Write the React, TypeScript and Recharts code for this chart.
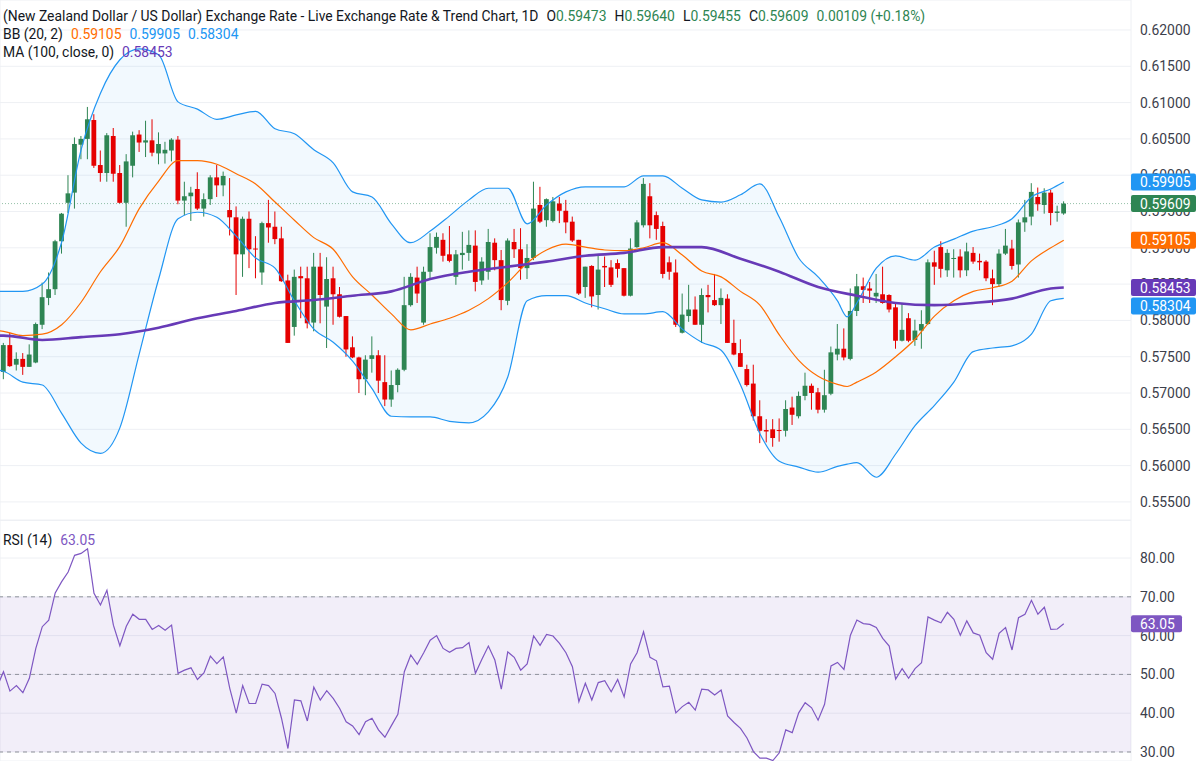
import {
  Area,
  Bar,
  CartesianGrid,
  ComposedChart,
  Line,
  ReferenceArea,
  ReferenceLine,
  XAxis,
  YAxis,
} from 'recharts'

const FONT = 'Roboto, "Open Sans", sans-serif'
const FS = 13.9
const UP = '#2e8553'
const DOWN = '#e50000'
const BLUE = '#2196f3'
const ORANGE = '#ff6d00'
const PURPLE = '#673ab7'
const RSI_C = '#7e57c2'
const GRID = '#eef0f4'
const AXIS_TXT = '#3c404b'

// daily candles, oldest first
const opens = [
  0.5729, 0.5766, 0.5739, 0.5747, 0.5736, 0.5742, 0.5794, 0.5831, 0.5843, 0.5909,
  0.5962, 0.5976, 0.6042, 0.605, 0.6076, 0.6014, 0.6003, 0.6054, 0.6003, 0.5962,
  0.6013, 0.6056, 0.6045, 0.6048, 0.603, 0.603, 0.6034, 0.6049, 0.5965, 0.5971,
  0.5981, 0.5954, 0.5967, 0.5997, 0.5986, 0.5952, 0.5942, 0.5891, 0.594, 0.5899,
  0.5866, 0.5934, 0.5929, 0.5913, 0.5855, 0.5791, 0.5861, 0.5858, 0.5797, 0.5874,
  0.5819, 0.5858, 0.5836, 0.5806, 0.5763, 0.5749, 0.5719, 0.5747, 0.5752, 0.5715,
  0.5691, 0.5711, 0.5732, 0.5821, 0.5859, 0.5797, 0.5867, 0.59, 0.5911, 0.5891,
  0.586, 0.589, 0.5893, 0.5903, 0.5855, 0.5867, 0.5907, 0.5883, 0.5827, 0.5908,
  0.5898, 0.5872, 0.5886, 0.5959, 0.5938, 0.5937, 0.5961, 0.5951, 0.5936, 0.5911,
  0.5846, 0.5875, 0.5835, 0.5875, 0.5873, 0.5879, 0.5872, 0.5834, 0.5901, 0.5931,
  0.5971, 0.5945, 0.593, 0.588, 0.5866, 0.5783, 0.5806, 0.5815, 0.5794, 0.5835,
  0.5828, 0.5821, 0.583, 0.5769, 0.5755, 0.5733, 0.5713, 0.5668, 0.5649, 0.565,
  0.5649, 0.5648, 0.568, 0.5668, 0.5696, 0.571, 0.5701, 0.5677, 0.5699, 0.5753,
  0.5761, 0.5747, 0.5813, 0.5847, 0.5844, 0.5833, 0.5836, 0.5835, 0.5818, 0.5772,
  0.5803, 0.5773, 0.5786, 0.5795, 0.588, 0.5901, 0.5869, 0.5885, 0.5888, 0.5869,
  0.5893, 0.5882, 0.5881, 0.5858, 0.585, 0.5892, 0.5899, 0.5877, 0.5935, 0.5943,
  0.597, 0.5959, 0.5976, 0.5948, 0.59473,
]
const highs = [
  0.5769, 0.5783, 0.5756, 0.5755, 0.5767, 0.5797, 0.5852, 0.5866, 0.5911, 0.5948,
  0.6, 0.6052, 0.6054, 0.6094, 0.6084, 0.6034, 0.6058, 0.6065, 0.6014, 0.6029,
  0.606, 0.6062, 0.6075, 0.6077, 0.6059, 0.6046, 0.6051, 0.6054, 0.5991, 0.5984,
  0.6004, 0.5975, 0.6, 0.6014, 0.6005, 0.5996, 0.5957, 0.5943, 0.595, 0.5916,
  0.5936, 0.5966, 0.595, 0.5929, 0.5863, 0.587, 0.5874, 0.5874, 0.5893, 0.5893,
  0.5887, 0.5874, 0.5846, 0.5806, 0.5778, 0.575, 0.5752, 0.5778, 0.5759, 0.5752,
  0.5731, 0.5734, 0.586, 0.5865, 0.5874, 0.5874, 0.592, 0.5921, 0.592, 0.593,
  0.5897, 0.5922, 0.5924, 0.5924, 0.5887, 0.5926, 0.5913, 0.5897, 0.5913, 0.5926,
  0.5927, 0.5905, 0.5991, 0.5984, 0.5968, 0.597, 0.597, 0.5966, 0.5943, 0.5911,
  0.5874, 0.5876, 0.5889, 0.5888, 0.5883, 0.5884, 0.5872, 0.5913, 0.5938, 0.5996,
  0.5989, 0.595, 0.5936, 0.5888, 0.5884, 0.5837, 0.5849, 0.5833, 0.5844, 0.5849,
  0.5864, 0.5844, 0.5836, 0.5801, 0.5774, 0.5739, 0.5739, 0.569, 0.5664, 0.5664,
  0.5665, 0.569, 0.5695, 0.5702, 0.5728, 0.5713, 0.5707, 0.5732, 0.5764, 0.5795,
  0.5789, 0.5844, 0.5864, 0.5859, 0.5853, 0.5864, 0.5874, 0.5836, 0.5824, 0.5824,
  0.581, 0.5801, 0.5814, 0.5884, 0.5896, 0.5909, 0.5898, 0.5898, 0.5898, 0.5907,
  0.5901, 0.5892, 0.5883, 0.587, 0.5898, 0.5926, 0.5911, 0.5939, 0.5966, 0.5989,
  0.5983, 0.5982, 0.598, 0.5958, 0.5964,
]
const lows = [
  0.5719, 0.5736, 0.5731, 0.5725, 0.5736, 0.5741, 0.5788, 0.5821, 0.5835, 0.5892,
  0.5948, 0.5954, 0.6022, 0.6022, 0.601, 0.5991, 0.5991, 0.5991, 0.5961, 0.5929,
  0.5997, 0.6032, 0.6025, 0.6026, 0.6015, 0.6016, 0.6019, 0.596, 0.5945, 0.5937,
  0.5952, 0.5943, 0.5959, 0.597, 0.5971, 0.5917, 0.5835, 0.586, 0.5872, 0.5858,
  0.5849, 0.5907, 0.5905, 0.5853, 0.5769, 0.5779, 0.5803, 0.5789, 0.5785, 0.5796,
  0.5762, 0.5794, 0.5804, 0.575, 0.5748, 0.57, 0.5697, 0.5728, 0.57, 0.5682,
  0.5681, 0.5701, 0.573, 0.5819, 0.5824, 0.5794, 0.5858, 0.5892, 0.5881, 0.588,
  0.5849, 0.587, 0.5882, 0.584, 0.5849, 0.5856, 0.5869, 0.5814, 0.5821, 0.5886,
  0.5856, 0.5857, 0.5883, 0.5934, 0.5929, 0.5935, 0.5934, 0.592, 0.5908, 0.5835,
  0.5831, 0.5818, 0.5815, 0.5846, 0.5846, 0.5859, 0.5833, 0.5833, 0.59, 0.5928,
  0.5913, 0.5911, 0.5858, 0.5856, 0.5791, 0.5782, 0.5798, 0.5794, 0.5769, 0.5811,
  0.582, 0.5795, 0.5769, 0.5752, 0.5736, 0.5709, 0.5662, 0.5631, 0.5632, 0.5626,
  0.5633, 0.564, 0.5656, 0.5665, 0.569, 0.5677, 0.5672, 0.5673, 0.5697, 0.5745,
  0.5745, 0.5745, 0.5806, 0.5824, 0.5824, 0.5824, 0.5823, 0.5811, 0.5761, 0.5771,
  0.577, 0.5765, 0.5761, 0.5794, 0.5849, 0.5859, 0.586, 0.5859, 0.5859, 0.5861,
  0.5878, 0.5869, 0.5854, 0.5821, 0.5846, 0.589, 0.587, 0.5859, 0.5922, 0.5931,
  0.5951, 0.5947, 0.5931, 0.5936, 0.59455,
]
const closes = [
  0.5766, 0.5737, 0.5747, 0.5736, 0.5753, 0.5795, 0.5832, 0.5843, 0.5909, 0.5947,
  0.5975, 0.6043, 0.605, 0.6077, 0.6013, 0.6003, 0.6055, 0.6002, 0.5962, 0.6019,
  0.6055, 0.6045, 0.6048, 0.6031, 0.6043, 0.6035, 0.6049, 0.5965, 0.5971, 0.5976,
  0.5954, 0.5967, 0.5997, 0.5986, 0.5999, 0.5942, 0.5891, 0.594, 0.5898, 0.5898,
  0.5934, 0.5928, 0.5912, 0.5854, 0.5769, 0.586, 0.5858, 0.5796, 0.5874, 0.5835,
  0.5857, 0.5836, 0.5805, 0.576, 0.5749, 0.5719, 0.5746, 0.5752, 0.5717, 0.5691,
  0.5711, 0.5732, 0.5821, 0.586, 0.5837, 0.5867, 0.5901, 0.5915, 0.5889, 0.5882,
  0.5891, 0.5893, 0.5904, 0.5853, 0.5881, 0.5908, 0.5883, 0.5828, 0.591, 0.5898,
  0.5872, 0.5886, 0.5954, 0.5936, 0.5967, 0.5964, 0.5951, 0.5935, 0.591, 0.5837,
  0.5874, 0.5833, 0.587, 0.5873, 0.5849, 0.5871, 0.5834, 0.5899, 0.5935, 0.5988,
  0.5931, 0.5926, 0.5864, 0.5867, 0.5794, 0.5808, 0.5815, 0.5794, 0.5835, 0.5832,
  0.5821, 0.5831, 0.5769, 0.5753, 0.5736, 0.5711, 0.5668, 0.5648, 0.5647, 0.5638,
  0.5648, 0.5678, 0.567, 0.5696, 0.571, 0.57, 0.5677, 0.5697, 0.5756, 0.5761,
  0.5749, 0.5813, 0.5847, 0.5842, 0.5841, 0.5838, 0.5824, 0.5815, 0.5772, 0.5787,
  0.5772, 0.5786, 0.5795, 0.588, 0.5874, 0.5871, 0.5893, 0.5886, 0.5869, 0.5895,
  0.5881, 0.588, 0.5858, 0.585, 0.5892, 0.5903, 0.5875, 0.5935, 0.5942, 0.5977,
  0.596, 0.5976, 0.5948, 0.595, 0.59609,
]

// RSI (14): value of the day before the first candle, then one per candle
const rsiBefore = 46.8
const rsiValues = [
  50.7, 45.7, 47.1, 45.3, 49.0, 56.7, 62.3, 64.0, 71.0, 73.9,
  76.4, 80.7, 81.2, 82.4, 70.9, 67.9, 71.7, 62.7, 57.4, 62.4,
  65.5, 64.2, 64.2, 61.6, 62.6, 61.4, 62.7, 50.3, 51.1, 51.7,
  48.7, 50.4, 54.7, 52.8, 54.5, 46.4, 40.0, 47.1, 42.5, 42.5,
  47.5, 47.1, 45.1, 38.7, 30.9, 43.4, 43.2, 38.0, 46.7, 43.4,
  45.8, 43.8, 41.2, 37.8, 36.7, 34.5, 37.8, 38.7, 35.7, 33.8,
  36.8, 39.7, 50.7, 55.0, 52.6, 55.6, 58.8, 60.0, 56.7, 55.7,
  56.7, 56.9, 58.2, 50.3, 53.9, 57.3, 53.7, 46.2, 55.8, 54.4,
  51.1, 52.7, 59.9, 57.5, 60.3, 59.9, 58.0, 55.6, 52.0, 43.0,
  47.7, 43.4, 47.9, 48.4, 45.5, 48.7, 44.2, 52.7, 55.6, 61.0,
  54.4, 53.5, 46.8, 47.0, 40.1, 41.7, 42.8, 40.8, 46.2, 46.0,
  44.7, 46.0, 39.3, 37.6, 36.1, 33.6, 30.1, 28.4, 28.4, 27.8,
  29.8, 35.7, 35.0, 40.1, 42.7, 41.4, 38.2, 42.3, 52.2, 53.1,
  51.3, 60.1, 64.0, 63.1, 62.9, 62.1, 59.3, 57.3, 48.8, 51.5,
  49.0, 51.5, 53.0, 64.8, 64.0, 63.3, 66.0, 64.2, 60.1, 63.8,
  60.7, 60.1, 55.6, 53.9, 60.6, 62.1, 56.3, 64.6, 65.5, 69.1,
  65.5, 67.3, 61.6, 61.7, 63.05,
]

// Bollinger (20, 2) read at sampled candles
const bbIdx = [
  -1, 0, 3, 6, 9, 12, 15, 18, 21, 24, 27, 30, 33, 36, 39, 42, 45, 48, 51, 54, 57,
  60, 63, 66, 69, 72, 75, 78, 81, 84, 87, 90, 93, 96, 99, 102, 105, 108, 111, 114, 117,
  120, 123, 126, 129, 130.5, 132, 135, 138, 141, 144, 147, 150, 153, 156, 159, 162, 164,
]
const bbUpper = [
  0.584, 0.584, 0.584, 0.585, 0.5908, 0.6035, 0.6113, 0.6159, 0.6174, 0.6166, 0.6101,
  0.6091, 0.6077, 0.6083, 0.6088, 0.6064, 0.6057, 0.6035, 0.6017, 0.5977, 0.597,
  0.5933, 0.5907, 0.5923, 0.5944, 0.5966, 0.5982, 0.5982, 0.5933, 0.5959, 0.5977,
  0.5984, 0.5984, 0.5984, 0.5999, 0.5999, 0.5982, 0.5966, 0.5963, 0.5973, 0.5988,
  0.5942, 0.5886, 0.586, 0.5827, 0.5805, 0.5824, 0.5872, 0.5889, 0.5883, 0.5901,
  0.5912, 0.5923, 0.5929, 0.594, 0.597, 0.5981, 0.59905,
]
const bbMid = [
  0.5786, 0.5785, 0.5779, 0.5781, 0.5794, 0.5825, 0.5867, 0.5902, 0.5954, 0.5992, 0.602,
  0.602, 0.6015, 0.6002, 0.5988, 0.5963, 0.5938, 0.5914, 0.5898, 0.586, 0.5835,
  0.5809, 0.5787, 0.5795, 0.5803, 0.5814, 0.583, 0.5852, 0.5879, 0.5897, 0.5905,
  0.5901, 0.5897, 0.5896, 0.59, 0.5907, 0.589, 0.5868, 0.586, 0.584, 0.5821,
  0.578, 0.5745, 0.5723, 0.5712, 0.5709, 0.5715, 0.5729, 0.575, 0.5774, 0.5806,
  0.5827, 0.584, 0.5845, 0.5854, 0.5882, 0.59, 0.59105,
]
const bbLower = [
  0.5732, 0.573, 0.5715, 0.5711, 0.5672, 0.5631, 0.5617, 0.5652, 0.5754, 0.5857, 0.594,
  0.5949, 0.5942, 0.5916, 0.5886, 0.5872, 0.5827, 0.5788, 0.577, 0.5744, 0.5706,
  0.5668, 0.5667, 0.5667, 0.5661, 0.5659, 0.5674, 0.5722, 0.5827, 0.5834, 0.5834,
  0.5824, 0.5816, 0.5809, 0.5809, 0.5812, 0.5788, 0.577, 0.5759, 0.5711, 0.5644,
  0.5606, 0.5598, 0.5591, 0.5599, 0.5602, 0.5604, 0.5584, 0.5616, 0.5655, 0.5683,
  0.5715, 0.5757, 0.5762, 0.5765, 0.5781, 0.5827, 0.58304,
]

// MA (100, close) read at sampled candles
const maIdx = [
  -1, 0, 6, 12, 18, 24, 30, 36, 42, 48, 54, 60, 66, 72, 78, 84, 90, 96, 102, 108, 114,
  120, 126, 132, 138, 144, 150, 156, 162, 164,
]
const maValues = [
  0.5779, 0.5779, 0.5773, 0.5777, 0.5781, 0.579, 0.5803, 0.5813, 0.5824, 0.5828, 0.5834,
  0.584, 0.5857, 0.5867, 0.5874, 0.5881, 0.5889, 0.5893, 0.5901, 0.5901, 0.5885,
  0.5867, 0.5846, 0.5834, 0.5824, 0.5821, 0.5824, 0.583, 0.5844, 0.58453,
]

const monthStarts = [15, 35, 57, 79, 100, 122, 145, 166]
const priceTicks = [
  0.555, 0.56, 0.565, 0.57, 0.575, 0.58, 0.585, 0.59, 0.595, 0.6, 0.605, 0.61, 0.615, 0.62,
]
const rsiTicks = [30, 40, 50, 60, 70, 80]

const MAIN_H = 520
const RSI_H = 241
const X_DOMAIN: [number, number] = [-0.54, 174.4]
const PRICE_DOMAIN: [number, number] = [0.55251, 0.62413]
const RSI_DOMAIN: [number, number] = [27.68, 89.8]

const candles = opens.map((o, i) => ({ i, o, h: highs[i], l: lows[i], c: closes[i] }))
const rsiLine = [{ i: -1, rsi: rsiBefore }, ...rsiValues.map((rsi, i) => ({ i, rsi }))]
const bands = bbIdx.map((i, k) => ({ i, upper: bbUpper[k], mid: bbMid[k], lower: bbLower[k] }))
const maLine = maIdx.map((i, k) => ({ i, ma: maValues[k] }))

const last = candles.length - 1
const lastBand = bands[bands.length - 1]
const lastMa = maValues[maValues.length - 1]
const lastRsi = rsiValues[rsiValues.length - 1]
const change = closes[last] - closes[last - 1]
const changePct = (change / closes[last - 1]) * 100

// right-axis value tags, nudged down so they do not overlap
const TAG_H = 17
const unitsPerPx = (PRICE_DOMAIN[1] - PRICE_DOMAIN[0]) / MAIN_H
const priceTags = [
  { v: lastBand.upper, color: BLUE },
  { v: closes[last], color: UP },
  { v: lastBand.mid, color: ORANGE },
  { v: lastMa, color: PURPLE },
  { v: lastBand.lower, color: BLUE },
]
  .sort((a, b) => b.v - a.v)
  .reduce((acc: Array<{ v: number; color: string; pos: number }>, t) => {
    const prev = acc[acc.length - 1]
    const limit = prev ? prev.pos - (TAG_H + 1.5) * unitsPerPx : Infinity
    acc.push({ ...t, pos: Math.min(t.v, limit) })
    return acc
  }, [])

function Candle(props: any) {
  const { x, y, width, height, payload } = props
  if (!payload || width == null) return null
  const { o, h, l, c } = payload
  const top = Math.min(y, y + height)
  const span = Math.abs(height)
  const py = (v: number) => top + ((h - v) / (h - l)) * span
  const cx = x + width / 2
  const color = c >= o ? UP : DOWN
  const bTop = py(Math.max(o, c))
  const bBot = py(Math.min(o, c))
  return (
    <g>
      <line x1={cx} x2={cx} y1={top} y2={top + span} stroke={color} strokeWidth={1} />
      <rect x={cx - 2.4} y={bTop} width={4.8} height={Math.max(1, bBot - bTop)} fill={color} />
    </g>
  )
}

function Tag(props: any) {
  const { viewBox, text, color, w } = props
  if (!viewBox) return null
  const x = viewBox.x + viewBox.width
  const y = viewBox.y
  return (
    <g>
      <rect x={x} y={y - TAG_H / 2} width={w} height={TAG_H} rx={2} fill={color} />
      <text x={x + 9} y={y} dy="0.36em" fill="#fff" fontSize={FS} fontFamily={FONT}>
        {text}
      </text>
    </g>
  )
}

const axisTick = { fontSize: FS, fill: AXIS_TXT, fontFamily: FONT }

function Val({ color, children, gap = 8 }: { color: string; children: any; gap?: number }) {
  return <span style={{ color, marginLeft: gap }}>{children}</span>
}

function xAxis() {
  return (
    <XAxis
      type="number"
      dataKey="i"
      domain={X_DOMAIN}
      allowDataOverflow
      ticks={monthStarts}
      tick={false}
      tickLine={false}
      axisLine={false}
      height={0}
    />
  )
}

export default function App() {
  const f5 = (v: number) => v.toFixed(5)
  const noDots = { dot: false, activeDot: false, isAnimationActive: false } as const
  return (
    <div
      style={{
        position: 'absolute',
        left: 0,
        top: 0,
        width: 1196,
        height: 761,
        background: '#fff',
        overflow: 'hidden',
        fontFamily: FONT,
      }}
    >
      <ComposedChart width={1196} height={MAIN_H} data={candles} margin={{ top: 0, right: 0, bottom: 0, left: 0 }}>
        <CartesianGrid stroke={GRID} />
        {xAxis()}
        <YAxis
          orientation="right"
          width={65}
          domain={PRICE_DOMAIN}
          allowDataOverflow
          ticks={priceTicks}
          tickFormatter={(v: number) => v.toFixed(5)}
          tick={axisTick}
          tickLine={false}
          axisLine={false}
          tickSize={0}
          tickMargin={9}
        />
        <Area
          data={bands}
          dataKey={(d: any) => [d.lower, d.upper]}
          type="monotone"
          stroke="none"
          fill={BLUE}
          fillOpacity={0.06}
          {...noDots}
        />
        <Bar dataKey={(d: any) => [d.l, d.h]} shape={<Candle />} barSize={5} isAnimationActive={false} />
        <Line data={bands} dataKey="upper" type="monotone" stroke={BLUE} strokeWidth={1.2} {...noDots} />
        <Line data={bands} dataKey="lower" type="monotone" stroke={BLUE} strokeWidth={1.2} {...noDots} />
        <Line data={bands} dataKey="mid" type="monotone" stroke={ORANGE} strokeWidth={1.2} {...noDots} />
        <Line data={maLine} dataKey="ma" type="monotone" stroke={PURPLE} strokeWidth={2.6} {...noDots} />
        <ReferenceLine y={closes[last]} stroke={UP} strokeOpacity={0.5} strokeDasharray="1 2" />
        {priceTags.map((t) => (
          <ReferenceLine
            key={t.color + t.v}
            y={t.pos}
            stroke="none"
            zIndex={2000}
            label={<Tag text={f5(t.v)} color={t.color} w={65} />}
          />
        ))}
      </ComposedChart>

      <div style={{ position: 'absolute', left: 0, top: MAIN_H, width: 1131, borderTop: `1px solid ${GRID}` }} />
      <div style={{ position: 'absolute', left: 0, top: MAIN_H }}>
        <ComposedChart width={1196} height={RSI_H} data={rsiLine} margin={{ top: 0, right: 0, bottom: 0, left: 0 }}>
          <CartesianGrid stroke={GRID} />
          {xAxis()}
          <YAxis
            orientation="right"
            width={65}
            domain={RSI_DOMAIN}
            allowDataOverflow
            ticks={rsiTicks}
            tickFormatter={(v: number) => v.toFixed(2)}
            tick={axisTick}
            tickLine={false}
            axisLine={false}
            tickSize={0}
            tickMargin={9}
          />
          <ReferenceArea y1={30} y2={70} fill={RSI_C} fillOpacity={0.1} stroke="none" />
          <ReferenceLine y={70} stroke="#8f929b" strokeDasharray="4 4" />
          <ReferenceLine y={50} stroke="#8f929b" strokeDasharray="4 4" />
          <ReferenceLine y={30} stroke="#8f929b" strokeDasharray="4 4" />
          <Line dataKey="rsi" stroke={RSI_C} strokeWidth={1.2} {...noDots} />
          <ReferenceLine
            y={lastRsi}
            stroke="none"
            zIndex={2000}
            label={<Tag text={lastRsi.toFixed(2)} color={RSI_C} w={51} />}
          />
        </ComposedChart>
      </div>

      <div
        style={{
          position: 'absolute',
          left: 3,
          top: 7,
          fontSize: FS,
          lineHeight: '18px',
          color: '#131722',
          pointerEvents: 'none',
          whiteSpace: 'nowrap',
        }}
      >
        <div>
          (New Zealand Dollar / US Dollar) Exchange Rate - Live Exchange Rate &amp; Trend Chart, 1D
          <span style={{ marginLeft: 8 }}>O</span>
          <Val color={UP} gap={0}>{f5(opens[last])}</Val>
          <span style={{ marginLeft: 8 }}>H</span>
          <Val color={UP} gap={0}>{f5(highs[last])}</Val>
          <span style={{ marginLeft: 8 }}>L</span>
          <Val color={UP} gap={0}>{f5(lows[last])}</Val>
          <span style={{ marginLeft: 8 }}>C</span>
          <Val color={UP} gap={0}>{f5(closes[last])}</Val>
          <Val color={UP}>
            {f5(change)} (+{changePct.toFixed(2)}%)
          </Val>
        </div>
        <div>
          BB (20, 2)
          <Val color={ORANGE}>{f5(lastBand.mid)}</Val>
          <Val color={BLUE}>{f5(lastBand.upper)}</Val>
          <Val color={BLUE}>{f5(lastBand.lower)}</Val>
        </div>
        <div>
          MA (100, close, 0)
          <Val color={PURPLE}>{f5(lastMa)}</Val>
        </div>
      </div>

      <div
        style={{
          position: 'absolute',
          left: 3,
          top: MAIN_H + 11,
          fontSize: FS,
          lineHeight: '18px',
          color: '#131722',
          pointerEvents: 'none',
        }}
      >
        RSI (14)
        <Val color={RSI_C}>{lastRsi.toFixed(2)}</Val>
      </div>
    </div>
  )
}
